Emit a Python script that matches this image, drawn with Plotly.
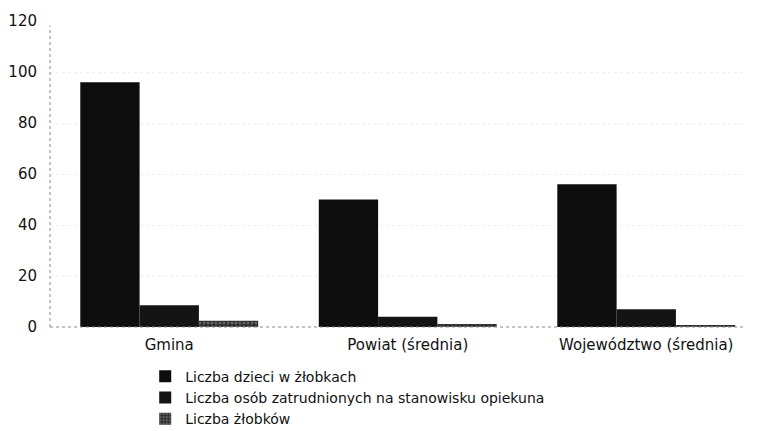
import plotly.graph_objects as go

categories = ["Gmina", "Powiat (średnia)", "Województwo (średnia)"]
series_names = [
    "Liczba dzieci w żłobkach",
    "Liczba osób zatrudnionych na stanowisku opiekuna",
    "Liczba żłobków",
]
dzieci = [96, 50, 56]
opiekunowie = [8.5, 4, 7]
zlobki = [2.5, 1.2, 0.5]
y_ticks = [0, 20, 40, 60, 80, 100, 120]

FONT = "DejaVu Sans"

fig = go.Figure()
fig.add_trace(go.Bar(x=categories, y=dzieci, name=series_names[0],
                     marker=dict(color="#0d0d0d", line=dict(width=0))))
fig.add_trace(go.Bar(x=categories, y=opiekunowie, name=series_names[1],
                     marker=dict(color="#141414", line=dict(width=0))))
fig.add_trace(go.Bar(x=categories, y=zlobki, name=series_names[2],
                     marker=dict(color="#2a2a2a", line=dict(width=0),
                                 pattern=dict(shape=".", fgcolor="#9a9a9a",
                                              size=4, solidity=0.45))))

# page body has an 8px default margin, so the figure is sized/offset to compensate
fig.update_layout(
    width=750, height=423,
    margin=dict(l=42, r=13, t=13, b=104, autoexpand=False),
    paper_bgcolor="white", plot_bgcolor="white",
    barmode="group", bargap=0.254, bargroupgap=0,
    font=dict(family=FONT, size=15, color="#111"),
    showlegend=True,
    legend=dict(x=0.137, xanchor="left", y=-0.11, yanchor="top",
                orientation="v", font=dict(size=14, color="#111"),
                bgcolor="rgba(0,0,0,0)", itemwidth=30,
                traceorder="normal", tracegroupgap=0),
    xaxis=dict(range=[-0.5, 2.414], showgrid=False, showline=False,
               zeroline=False, ticks="", ticklabelstandoff=7,
               tickfont=dict(size=15)),
    yaxis=dict(range=[0, 120], tickvals=y_ticks, showgrid=True,
               gridcolor="#f0f0f0", griddash="dot", gridwidth=1,
               showline=False, zeroline=False, ticks="",
               ticklabelstandoff=12, tickfont=dict(size=15)),
    shapes=[
        dict(type="line", xref="paper", yref="paper", x0=0, x1=0, y0=0, y1=0.985,
             line=dict(color="#8a8a8a", width=1, dash="dot")),
        dict(type="line", xref="paper", yref="paper", x0=0, x1=1, y0=0, y1=0,
             line=dict(color="#8a8a8a", width=1, dash="dot")),
    ],
)

fig.write_html("out.html")
